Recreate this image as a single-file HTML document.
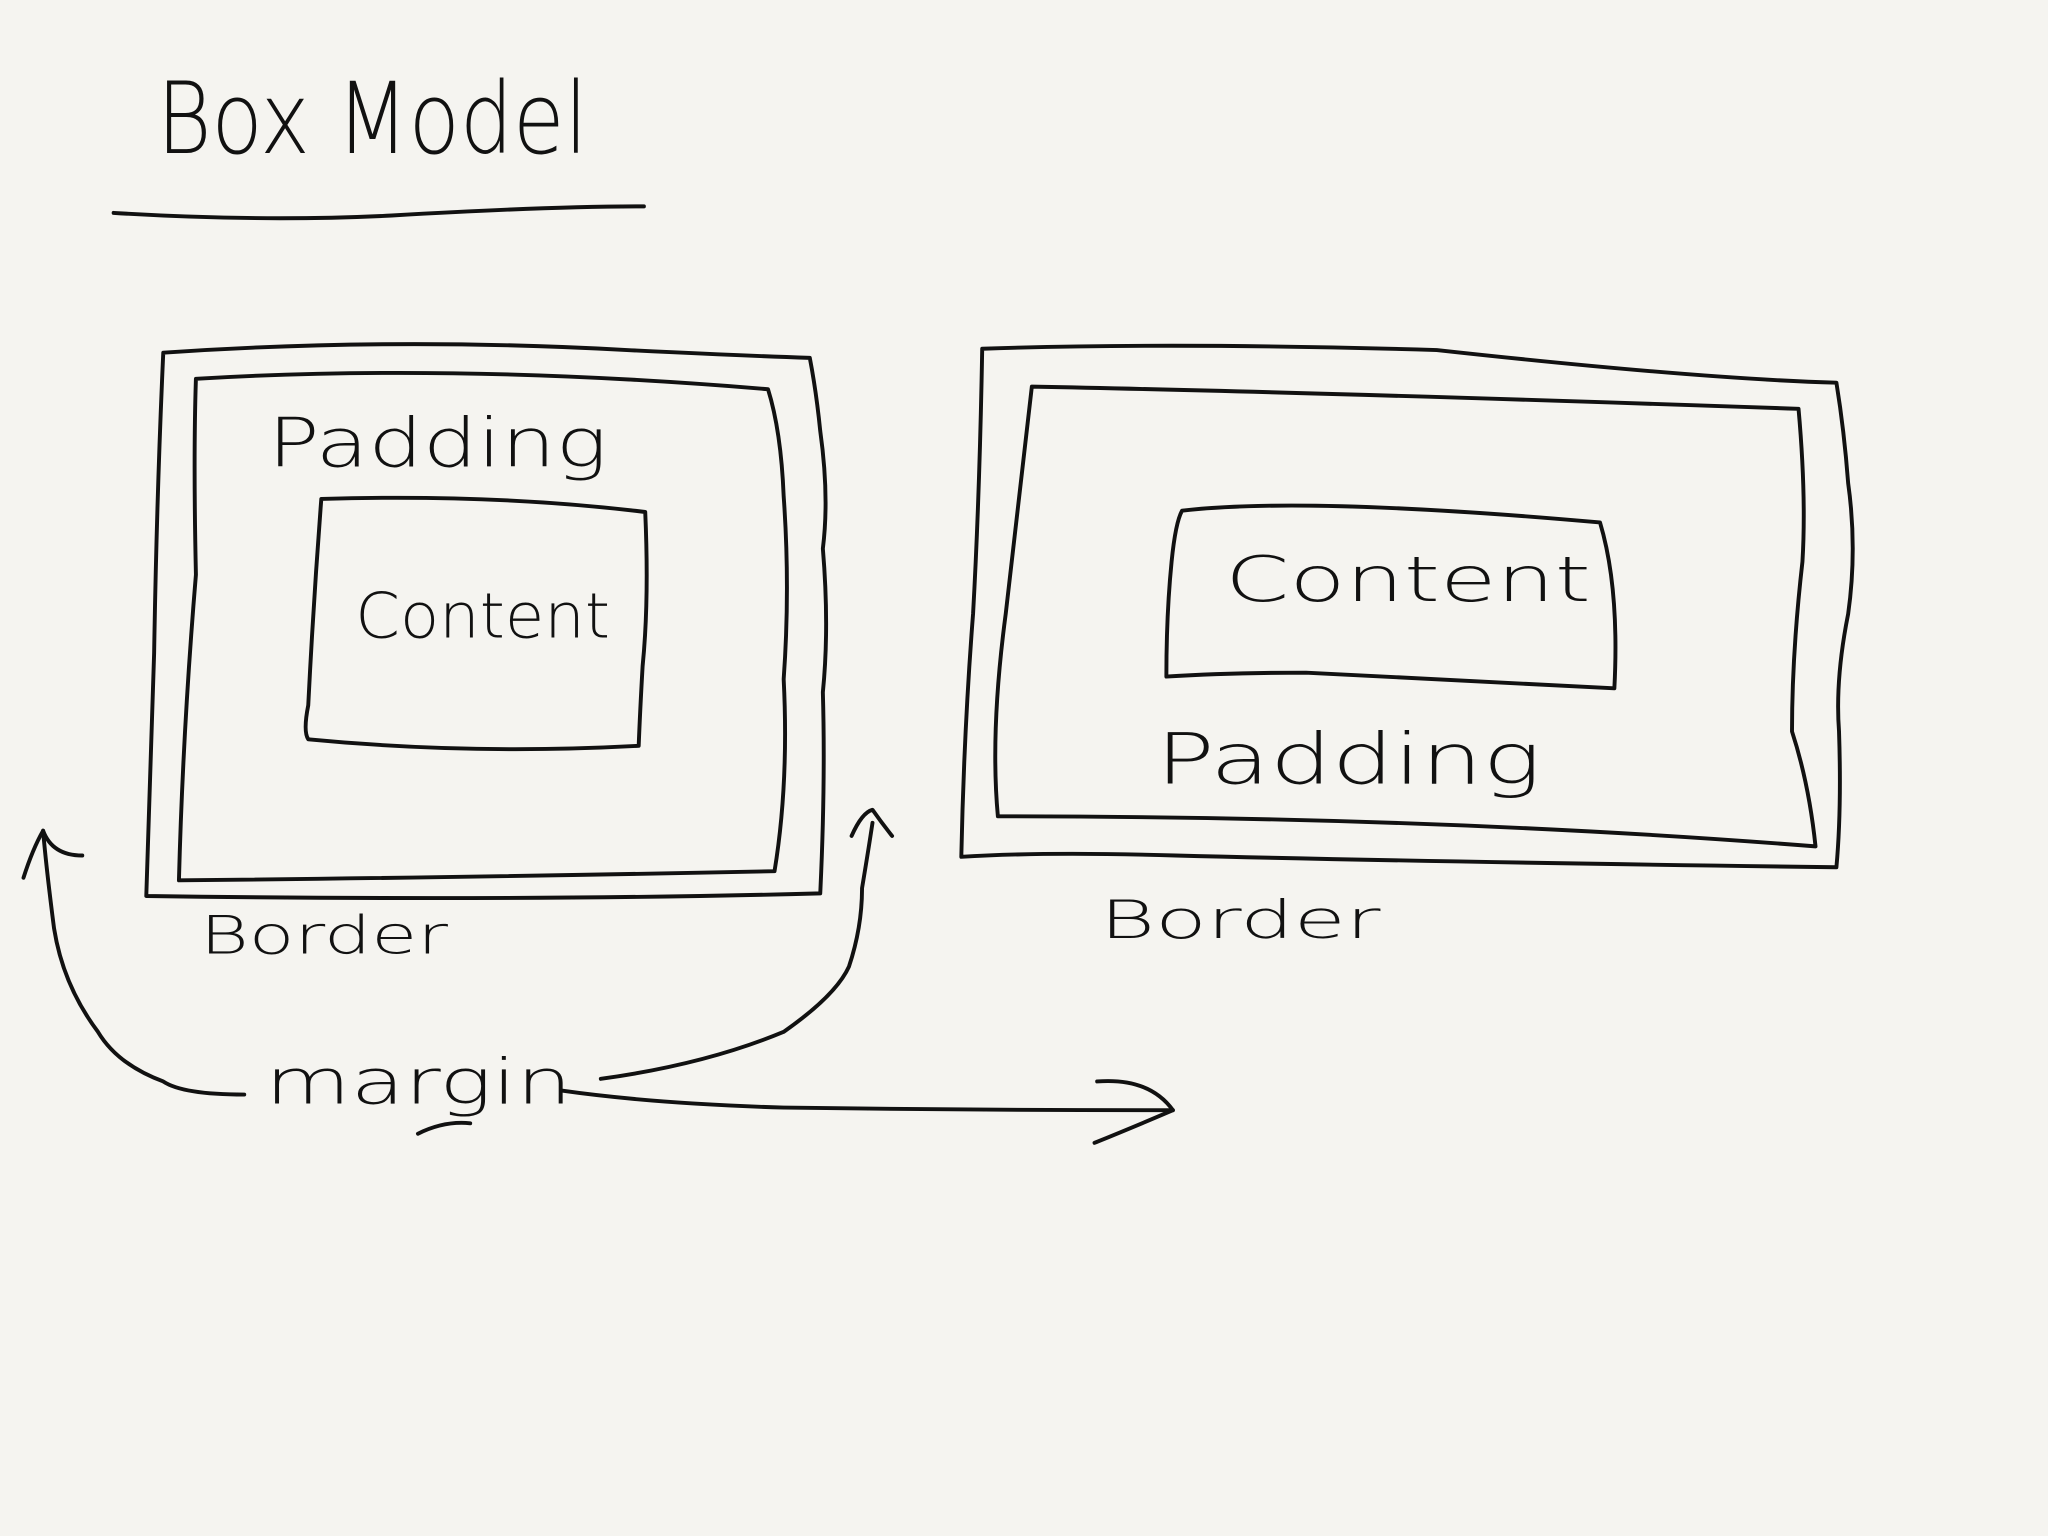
<!DOCTYPE html>
<html><head><meta charset="utf-8"><style>
html,body{margin:0;padding:0;background:#f5f4f0;}
svg{display:block}
text{font-family:"DejaVu Sans",sans-serif;fill:#111;font-weight:200}
</style></head><body>
<svg width="2048" height="1536" viewBox="0 0 1568 1176" xmlns="http://www.w3.org/2000/svg">
<rect width="1568" height="1176" fill="#f5f4f0"/>
<g fill="none" stroke="#111" stroke-width="3" stroke-linecap="round" stroke-linejoin="round">
<path d="M87 163 Q200 170 300 165 Q420 158 493 158"/>
<path d="M125 270 Q300 258 480 268 Q560 272 620 274 Q625 300 628 330 Q635 380 630 420 Q635 480 630 530 Q632 600 628 684 Q400 690 112 686 Q115 600 118 500 Q120 380 125 270Z"/>
<path d="M150 290 Q350 278 588 298 Q598 330 600 380 Q605 450 600 520 Q604 600 593 667 Q350 672 137 674 Q140 560 150 440 Q148 350 150 290Z"/>
<path d="M246 382 Q380 378 494 392 Q497 460 492 510 Q490 545 489 571 Q360 578 236 566 Q232 560 236 540 Q240 460 246 382Z"/>
<path d="M752 267 Q900 262 1100 268 Q1300 290 1406 293 Q1412 330 1415 370 Q1422 420 1415 470 Q1405 520 1408 560 Q1410 620 1406 664 Q1100 660 900 655 Q800 652 736 656 Q738 560 745 470 Q750 380 752 267Z"/>
<path d="M790 296 Q1000 300 1377 313 Q1383 380 1380 430 Q1372 500 1372 560 Q1385 600 1390 648 Q1100 625 764 625 Q758 560 770 470 Q778 400 790 296Z"/>
<path d="M905 391 Q1000 380 1225 400 Q1240 450 1236 527 Q1100 520 1000 515 Q940 515 893 518 Q893 470 897 430 Q900 400 905 391Z"/>
<path d="M187 838 Q140 838 125 828 Q90 815 75 790 Q45 750 40 700 Q35 660 33 636"/>
<path d="M18 672 Q25 650 33 636 Q40 655 63 655"/>
<path d="M460 826 Q540 815 600 790 Q640 762 650 740 Q660 710 660 680 Q665 650 668 630"/>
<path d="M652 640 Q660 622 668 620 Q675 630 683 640"/>
<path d="M430 835 Q500 845 600 848 Q750 850 898 850"/>
<path d="M840 828 Q880 825 898 850 Q870 862 838 875"/>
<path d="M320 868 Q340 858 360 860"/>
</g>
<g>
<text x="120" y="117" font-size="76" textLength="330" lengthAdjust="spacingAndGlyphs">Box  Model</text>
<text x="205" y="357" font-size="52" textLength="260" lengthAdjust="spacingAndGlyphs">Padding</text>
<text x="272" y="488" font-size="48" textLength="195" lengthAdjust="spacingAndGlyphs">Content</text>
<text x="153" y="730" font-size="40" textLength="190" lengthAdjust="spacingAndGlyphs">Border</text>
<text x="203" y="845" font-size="48" textLength="235" lengthAdjust="spacingAndGlyphs">margin</text>
<text x="938" y="460" font-size="48" textLength="280" lengthAdjust="spacingAndGlyphs">Content</text>
<text x="885" y="600" font-size="54" textLength="295" lengthAdjust="spacingAndGlyphs">Padding</text>
<text x="842" y="718" font-size="40" textLength="215" lengthAdjust="spacingAndGlyphs">Border</text>
</g>
</svg>
</body></html>
